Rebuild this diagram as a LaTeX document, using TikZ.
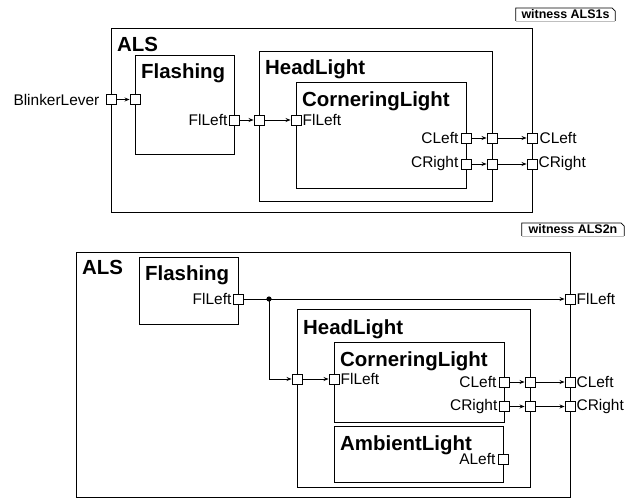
\documentclass[tikz,border=0pt]{standalone}
\usepackage{fontspec}
\setmainfont{Liberation Sans}
\usepackage{tikz}
\usetikzlibrary{arrows.meta}

\tikzset{
  blk/.style={draw, line width=1bp, anchor=north west, inner sep=0pt},
  blktitle/.style={anchor=north west, inner sep=0pt, font=\fontsize{20.5}{20.5}\selectfont\bfseries},
  port/.style={draw, line width=0.9bp, fill=white, minimum size=10bp, inner sep=0pt},
  plab/.style={inner sep=2bp, font=\fontsize{15.5}{15.5}\selectfont},
  conn/.style={line width=0.9bp},
  witness/.style={inner sep=0pt, minimum height=12.5bp, font=\fontsize{12.5}{12.5}\selectfont\bfseries},
}

\begin{document}
\begin{tikzpicture}[x=1bp, y=-1bp, >={Stealth[length=5bp,width=4bp]}]
\useasboundingbox (0,0) rectangle (628,501);
% witness ALS1s
\node[witness, minimum width=99bp] (w1) at (565.5,14.5) {witness ALS1s};
\draw[line width=0.8bp] (w1.south west) -- (w1.north west) -- ([xshift=-3bp]w1.north east)
  -- ([yshift=-3bp]w1.north east) -- (w1.south east);
\draw[line width=0.5bp, gray!50] (w1.south west) -- (w1.south east);
\node[blk, minimum width=421bp, minimum height=184bp] (als1) at (111,28) {};
\node[blk, minimum width=99bp, minimum height=99bp] (fla1) at (135,55) {};
\node[blk, minimum width=233bp, minimum height=150bp] (hl1) at (259,51) {};
\node[blk, minimum width=170bp, minimum height=106bp] (cl1) at (296,82) {};
\node[blktitle] (als1t) at ([shift={(6,9)}]als1.north west) {ALS};
\node[blktitle] (fla1t) at ([shift={(6,9)}]fla1.north west) {Flashing};
\node[blktitle] (hl1t) at ([shift={(6,9)}]hl1.north west) {HeadLight};
\node[blktitle] (cl1t) at ([shift={(6,9.5)}]cl1.north west) {CorneringLight};
\node[port, label={[plab, label distance=4bp]left:BlinkerLever}] (bl1) at (111,99.5) {};
\node[port] (fin1) at (135,99.5) {};
\node[port, label={[plab, inner sep=1bp]left:FlLeft}] (flo1) at (234,120) {};
\node[port] (hlin1) at (259,120) {};
\node[port, label={[plab, inner sep=1bp]right:FlLeft}] (clin1) at (296,120) {};
\node[port, label={[plab]left:CLeft}] (clcl1) at (466,138) {};
\node[port] (hlcl1) at (492,138) {};
\node[port, label={[plab]right:CLeft}] (alscl1) at (532,138) {};
\node[port, label={[plab]left:CRight}] (clcr1) at (466,164) {};
\node[port] (hlcr1) at (492,164) {};
\node[port, label={[plab, inner sep=1bp]right:CRight}] (alscr1) at (532,164) {};
\draw[conn, ->] (bl1) -- (fin1);
\draw[conn, ->] (flo1) -- (hlin1);
\draw[conn, ->] (hlin1) -- (clin1);
\draw[conn, ->] (clcl1) -- (hlcl1);
\draw[conn, ->] (hlcl1) -- (alscl1);
\draw[conn, ->] (clcr1) -- (hlcr1);
\draw[conn, ->] (hlcr1) -- (alscr1);
% witness ALS2n
\node[witness, minimum width=102bp] (w2) at (573,229.5) {witness ALS2n};
\draw[line width=0.8bp] (w2.south west) -- (w2.north west) -- ([xshift=-3bp]w2.north east)
  -- ([yshift=-3bp]w2.north east) -- (w2.south east);
\draw[line width=0.5bp, gray!50] (w2.south west) -- (w2.south east);
\node[blk, minimum width=494bp, minimum height=245bp] (als2) at (76,252) {};
\node[blk, minimum width=99bp, minimum height=67bp] (fla2) at (139,257) {};
\node[blk, minimum width=233bp, minimum height=178bp] (hl2) at (297,309) {};
\node[blk, minimum width=170bp, minimum height=80bp] (cl2) at (334,342) {};
\node[blk, minimum width=169bp, minimum height=56bp] (amb2) at (334,426) {};
\node[blktitle] (als2t) at ([shift={(6,8)}]als2.north west) {ALS};
\node[blktitle] (fla2t) at ([shift={(6,9)}]fla2.north west) {Flashing};
\node[blktitle] (hl2t) at ([shift={(6,10)}]hl2.north west) {HeadLight};
\node[blktitle] (cl2t) at ([shift={(6,9.5)}]cl2.north west) {CorneringLight};
\node[blktitle] (amb2t) at ([shift={(6,9)}]amb2.north west) {AmbientLight};
\node[port, label={[plab, inner sep=1bp]left:FlLeft}] (flo2) at (238,299) {};
\coordinate (j2) at (269,299);
\node[port, label={[plab, inner sep=1bp]right:FlLeft}] (alsfl2) at (570,299) {};
\node[port] (hlin2) at (297,379) {};
\node[port, label={[plab, inner sep=1bp]right:FlLeft}] (clin2) at (334,379) {};
\node[port, label={[plab]left:CLeft}] (clcl2) at (504,382) {};
\node[port] (hlcl2) at (530,382) {};
\node[port, label={[plab, inner sep=1bp]right:CLeft}] (alscl2) at (570,382) {};
\node[port, label={[plab, inner sep=1bp]left:CRight}] (clcr2) at (504,406.5) {};
\node[port] (hlcr2) at (530,406.5) {};
\node[port, label={[plab, inner sep=1bp]right:CRight}] (alscr2) at (570,406.5) {};
\node[port, label={[plab]left:ALeft}] (al2) at (503,459) {};
\draw[conn] (flo2) -- (j2);
\fill (j2) circle (2.6bp);
\draw[conn, ->] (j2) -- (alsfl2);
\draw[conn, ->] (j2) |- (hlin2);
\draw[conn, ->] (hlin2) -- (clin2);
\draw[conn, ->] (clcl2) -- (hlcl2);
\draw[conn, ->] (hlcl2) -- (alscl2);
\draw[conn, ->] (clcr2) -- (hlcr2);
\draw[conn, ->] (hlcr2) -- (alscr2);
\end{tikzpicture}
\end{document}
